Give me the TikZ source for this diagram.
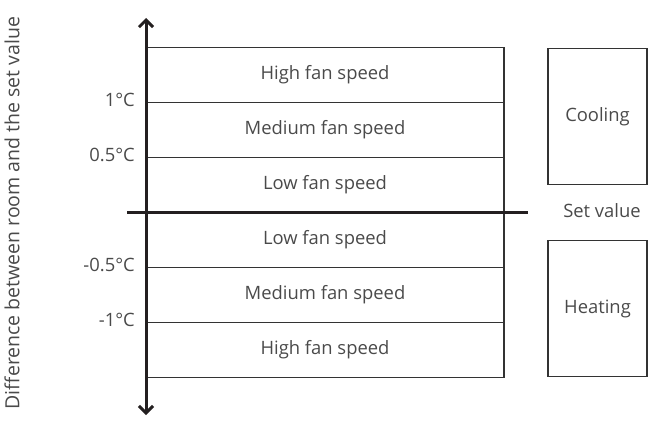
\documentclass[tikz,border=0pt]{standalone}
\usepackage{fontspec}
\setmainfont{Open Sans}
\usepackage{tikz}
\usetikzlibrary{positioning,arrows.meta}
\definecolor{txtgray}{HTML}{4A4A4A}
\definecolor{linegray}{HTML}{333333}
\definecolor{axisblack}{HTML}{231F20}

\begin{document}
\begin{tikzpicture}[
x=1pt, y=-1pt,
every node/.style={font=\fontsize{18.4}{22}\selectfont, text=txtgray},
row/.style={rectangle, draw=linegray, line width=1.2pt, outer sep=0pt, minimum width=358pt, minimum height=55pt, inner sep=0pt},
mode/.style={rectangle, draw=linegray, line width=1.2pt, outer sep=0pt, minimum width=99pt, minimum height=136pt, inner sep=0pt},
tick/.style={anchor=east, inner sep=0pt},
axis/.style={draw=axisblack, line width=3pt},
]
\useasboundingbox (0,0) rectangle (655,425);

%Speed rows
\node[row] (r1) at (325,75) {High fan speed};
\node[row] (r2) [below=0pt of r1] {Medium fan speed};
\node[row] (r3) [below=0pt of r2] {Low fan speed};
\node[row] (r4) [below=0pt of r3] {Low fan speed};
\node[row] (r5) [below=0pt of r4] {Medium fan speed};
\node[row] (r6) [below=0pt of r5] {High fan speed};

%Mode boxes
\node[mode] (cool) at (597.5,116.5) {Cooling};
\node[mode] (heat) at (597.5,308.5) {Heating};
\node (setv) at (602,211) {Set value};

%Thresholds
\node[tick] (t1) at ([xshift=-11pt,yshift=3pt]r1.south west) {1°C};
\node[tick] (t2) at ([xshift=-11pt,yshift=3pt]r2.south west) {0.5°C};
\node[tick] (t3) at ([xshift=-11pt,yshift=3pt]r4.south west) {-0.5°C};
\node[tick] (t4) at ([xshift=-11pt,yshift=3pt]r5.south west) {-1°C};

%Axis label
\node[rotate=90, font=\fontsize{19.5}{22}\selectfont] (ylab) at (12,213) {Difference between room and the set value};

%Axes
\coordinate (atop) at (146,18);
\coordinate (abot) at (146,415);
\coordinate (hl) at (127,212);
\coordinate (hr) at (528,212);
\draw[axis, {Straight Barb[length=7pt,width=14pt]}-{Straight Barb[length=7pt,width=14pt]}] (abot) -- (atop);
\draw[axis] (hl) -- (hr);
\end{tikzpicture}
\end{document}
